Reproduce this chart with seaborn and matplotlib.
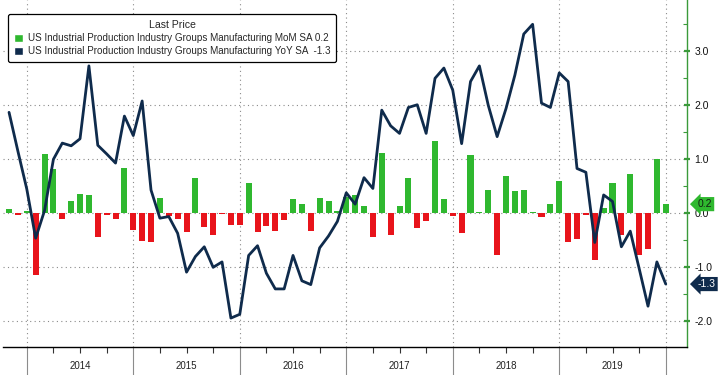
import matplotlib
matplotlib.use("Agg")
import matplotlib.pyplot as plt
from matplotlib.patches import Patch
from matplotlib.ticker import FixedLocator, MultipleLocator
import numpy as np
import pandas as pd
import seaborn as sns

# monthly data, Oct 2013 .. Dec 2019
months = pd.period_range("2013-10", "2019-12", freq="M")

mom = [
    0.08, -0.03, 0.05,
    -1.14, 1.10, 0.82, -0.11, 0.23, 0.36, 0.34, -0.43, -0.04, -0.10, 0.84, -0.30,
    -0.52, -0.54, 0.29, -0.05, -0.10, -0.35, 0.65, -0.25, -0.40, -0.01, -0.21, -0.21,
    0.56, -0.35, -0.23, -0.32, -0.12, 0.27, 0.17, -0.32, 0.28, 0.22, 0.04, 0.31,
    0.33, 0.14, -0.44, 1.11, -0.41, 0.14, 0.65, -0.28, -0.15, 1.34, 0.27, -0.05,
    -0.36, 1.08, 0.02, 0.44, -0.78, 0.70, 0.41, 0.44, 0.02, -0.06, 0.18, 0.59,
    -0.54, -0.48, -0.04, -0.86, 0.09, 0.56, -0.40, 0.73, -0.78, -0.66, 1.01, 0.17,
]

yoy = [
    1.87, 1.15, 0.45,
    -0.46, 0.05, 1.00, 1.30, 1.25, 1.38, 2.73, 1.26, 1.10, 0.93, 1.80, 1.44,
    2.08, 0.43, -0.09, -0.06, -0.37, -1.09, -0.80, -0.62, -1.00, -0.90, -1.94, -1.87,
    -0.78, -0.60, -1.11, -1.40, -1.40, -0.78, -1.25, -1.32, -0.64, -0.42, -0.15, 0.38,
    0.17, 0.66, 0.46, 1.91, 1.62, 1.48, 1.96, 2.01, 1.48, 2.50, 2.69, 2.28,
    1.29, 2.44, 2.73, 2.00, 1.42, 1.94, 2.56, 3.32, 3.50, 2.04, 1.96, 2.60,
    2.44, 0.83, 0.76, -0.54, 0.34, 0.22, -0.62, -0.33, -1.02, -1.72, -0.90, -1.31,
]

mom_label = "US Industrial Production Industry Groups Manufacturing MoM SA"
yoy_label = "US Industrial Production Industry Groups Manufacturing YoY SA"
y_ticks = [-2, -1, 0, 1, 2, 3]

GREEN = "#2fb82f"
RED = "#e8141b"
NAVY = "#0f2b4c"
GRID = "#8a8a8a"

df = pd.DataFrame({"pos": np.arange(len(months)), "mom": mom, "yoy": yoy})
df["sign"] = np.where(df["mom"] >= 0, "up", "down")

sns.set_style("white")
plt.rcParams["font.family"] = ["Liberation Sans", "DejaVu Sans"]

fig = plt.figure(figsize=(7.2, 3.75), dpi=100)
ax = fig.add_axes([3 / 720, 1 - 346.7 / 375, 683.7 / 720, 346.7 / 375])

sns.barplot(
    data=df, x="pos", y="mom", hue="sign",
    palette={"up": GREEN, "down": RED},
    native_scale=True, width=0.68, dodge=False, saturation=1,
    linewidth=0, legend=False, ax=ax, zorder=2,
)
sns.lineplot(data=df, x="pos", y="yoy", color=NAVY, linewidth=2, ax=ax, zorder=3)

ax.set_xlim(-0.68, 76.36)
ax.set_ylim(-2.47, 3.95)
ax.set_xlabel("")
ax.set_ylabel("")

# year boundaries fall on December points
bounds = [i for i, m in enumerate(months) if m.month == 12]
quarters = [i for i, m in enumerate(months) if m.month in (3, 6, 9)]
ax.xaxis.set_major_locator(FixedLocator(bounds))
ax.xaxis.set_minor_locator(FixedLocator(quarters))
ax.set_xticklabels([])
ax.tick_params(axis="x", which="major", length=29, width=0.8, color="#8c8c8c", bottom=True)
ax.tick_params(axis="x", which="minor", length=4, width=0.8, color="#333333", bottom=True)
for a, b in zip(bounds[:-1], bounds[1:]):
    ax.text((a + b) / 2, -0.055, str(months[b].year), transform=ax.get_xaxis_transform(),
            ha="center", va="center", fontsize=7, color="#222222")

# right value axis
ax.yaxis.tick_right()
ax.set_yticks(y_ticks)
ax.set_yticklabels([f"{v:.1f}" for v in y_ticks])
ax.yaxis.set_minor_locator(MultipleLocator(0.5))
ax.tick_params(axis="y", which="major", right=True, left=False, length=5, width=1.6,
               color="#3a9a3a", direction="inout", labelsize=7.5, pad=3,
               labelcolor="#111111")
ax.tick_params(axis="y", which="minor", right=True, left=False, length=3, width=0.8,
               color="#3a9a3a", direction="in")

for side in ["top", "left"]:
    ax.spines[side].set_visible(False)
ax.spines["right"].set_color("#3a9a3a")
ax.spines["right"].set_linewidth(1)
ax.spines["bottom"].set_color("black")
ax.spines["bottom"].set_linewidth(1)

ax.grid(True, axis="both", which="major", color=GRID, linestyle=(0, (1, 3)), linewidth=0.8)
ax.set_axisbelow(True)

# last value badges
ax.text(1.016, mom[-1], f"{mom[-1]:.1f}", transform=ax.get_yaxis_transform(),
        ha="left", va="center", fontsize=7.5, color="#102010", clip_on=False, zorder=5,
        bbox=dict(boxstyle="larrow,pad=0.2", facecolor=GREEN, edgecolor="none"))
ax.text(1.016, yoy[-1], f"{yoy[-1]:.1f}", transform=ax.get_yaxis_transform(),
        ha="left", va="center", fontsize=7.5, color="white", clip_on=False, zorder=5,
        bbox=dict(boxstyle="larrow,pad=0.2", facecolor=NAVY, edgecolor="none"))

handles = [Patch(facecolor=GREEN), Patch(facecolor=NAVY)]
labels = [f"{mom_label} {mom[-1]:.1f}", f"{yoy_label}  {yoy[-1]:.1f}"]
leg = ax.legend(
    handles, labels, title="Last Price", loc="upper left",
    bbox_to_anchor=(5.3 / 683.7, 1 - 14.3 / 346.7), borderaxespad=0,
    fontsize=7.1, title_fontsize=7.6, handlelength=0.9, handleheight=0.9,
    handletextpad=0.45, labelspacing=0.3, borderpad=0.6,
    frameon=True, fancybox=True, edgecolor="black", facecolor="white", framealpha=1,
)
leg.get_frame().set_linewidth(0.9)

fig.savefig("out.png", dpi=100)
